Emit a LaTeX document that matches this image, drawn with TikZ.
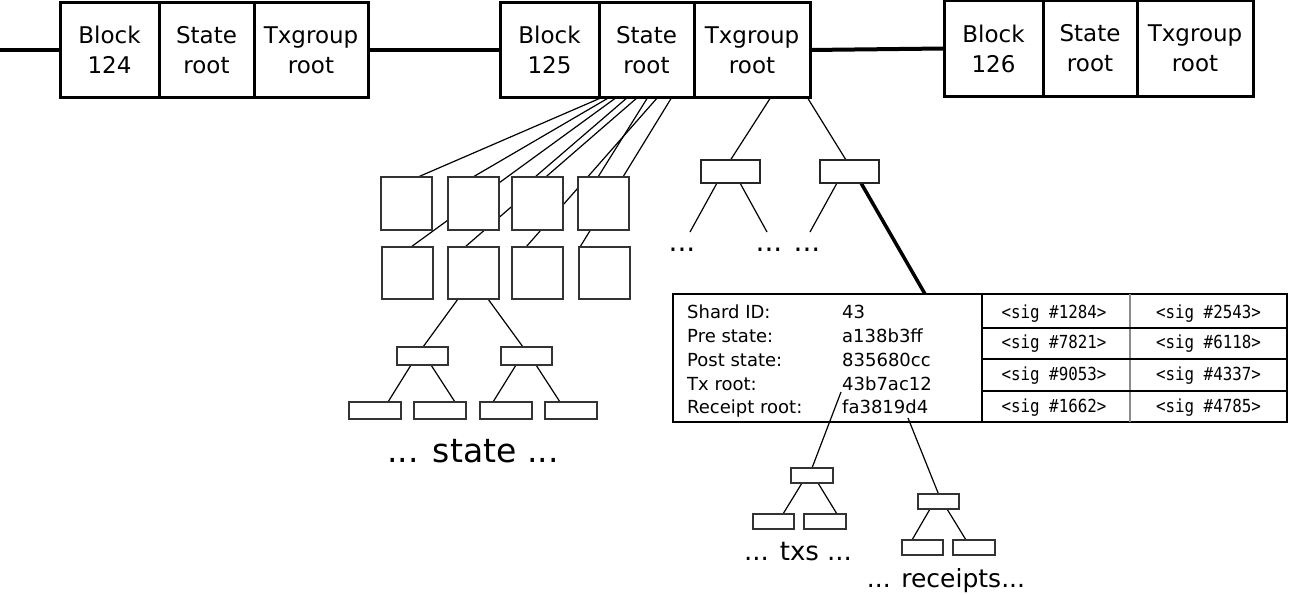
\documentclass[tikz,border=0pt]{standalone}
\usepackage{fontspec}
\setmainfont{DejaVu Sans}
\newfontfamily\sigfont[FakeStretch=0.88]{DejaVu Sans Mono}
\usetikzlibrary{backgrounds}
\begin{document}
\begin{tikzpicture}[x=1pt,y=-1pt,
  cell/.style={draw, line width=3pt, inner sep=0pt, outer sep=0pt, minimum height=94pt, align=center, font=\fontsize{23}{30}\selectfont},
  sq/.style={draw=black!80, line width=1.5pt, fill=white, inner sep=0pt, outer sep=0pt, minimum width=51pt, minimum height=53pt},
  rb/.style={draw=black!80, line width=1.5pt, fill=white, inner sep=0pt, outer sep=0pt, minimum width=51pt, minimum height=18pt},
  sb/.style={draw=black!80, line width=1.5pt, fill=white, inner sep=0pt, outer sep=0pt, minimum width=41pt, minimum height=15pt},
  tb/.style={draw=black!85, line width=1.8pt, fill=white, inner sep=0pt, outer sep=0pt, minimum width=59pt, minimum height=23pt},
  chain/.style={line width=4pt},
  edge/.style={line width=1.2pt},
  lbl/.style={inner sep=0pt, font=\fontsize{18}{24}\selectfont},
  sig/.style={inner sep=0pt, font=\sigfont\fontsize{18}{20}\selectfont},
  dots/.style={inner sep=0pt, font=\fontsize{28}{30}\selectfont},
]
\path[use as bounding box] (0,0) rectangle (1289,594);

% blocks
\node[cell, minimum width=99pt] (b124a) at (109.5,50) {Block\\124};
\node[cell, minimum width=95pt] (b124b) at (206.5,50) {State\\root};
\node[cell, minimum width=114pt] (b124c) at (311,50) {Txgroup\\root};
\node[cell, minimum width=99pt] (b125a) at (549.5,50) {Block\\125};
\node[cell, minimum width=95pt] (b125b) at (646.5,50) {State\\root};
\node[cell, minimum width=116pt] (b125c) at (752,50) {Txgroup\\root};
\node[cell, minimum width=99pt, minimum height=95pt] (b126a) at (993.5,48.5) {Block\\126};
\node[cell, minimum width=94pt, minimum height=95pt] (b126b) at (1090,48.5) {State\\root};
\node[cell, minimum width=116pt, minimum height=95pt] (b126c) at (1195,48.5) {Txgroup\\root};
\coordinate (lstart) at (0,50);

% state squares
\node[sq] (s11) at (406.5,203.5) {};
\node[sq] (s12) at (473.5,203.5) {};
\node[sq] (s13) at (537.5,203.5) {};
\node[sq] (s14) at (603.5,203.5) {};
\node[sq, minimum height=52pt] (s21) at (407.5,273) {};
\node[sq, minimum height=52pt] (s22) at (473.5,273) {};
\node[sq, minimum height=52pt] (s23) at (537.5,273) {};
\node[sq, minimum height=52pt] (s24) at (604.5,273) {};

% state subtree
\node[rb] (r1) at (422.5,356) {};
\node[rb] (r2) at (526.5,356) {};
\node[rb, minimum width=52pt, minimum height=17pt] (l1) at (375,410.5) {};
\node[rb, minimum width=52pt, minimum height=17pt] (l2) at (440,410.5) {};
\node[rb, minimum width=52pt, minimum height=17pt] (l3) at (506,410.5) {};
\node[rb, minimum width=52pt, minimum height=17pt] (l4) at (571,410.5) {};
\node[inner sep=0pt, anchor=base, font=\fontsize{33}{36}\selectfont] (stt) at (473,462) {... state ...};

% txgroup tree
\node[tb] (t1) at (730.5,171.5) {};
\node[tb] (t2) at (849.5,171.5) {};
\coordinate (d1) at (690,232);
\coordinate (d2) at (767,232);
\coordinate (d3) at (810,232);
\node[dots, anchor=base] (dt1) at (682,251) {...};
\node[dots, anchor=base] (dt2) at (769,251) {...};
\node[dots, anchor=base] (dt3) at (807,251) {...};

% shard box
\node[draw, line width=2.5pt, inner sep=0pt, outer sep=0pt, minimum width=614pt, minimum height=128pt] (shard) at (980,358) {};
\node[lbl, anchor=base west] (k1) at (687,318) {Shard ID:};
\node[lbl, anchor=base west] (k2) at (687,342) {Pre state:};
\node[lbl, anchor=base west] (k3) at (687,366) {Post state:};
\node[lbl, anchor=base west] (k4) at (687,390) {Tx root:};
\node[lbl, anchor=base west] (k5) at (687,413) {Receipt root:};
\node[lbl, anchor=base west] (v1) at (842,318) {43};
\node[lbl, anchor=base west] (v2) at (842,342) {a138b3ff};
\node[lbl, anchor=base west] (v3) at (842,366) {835680cc};
\node[lbl, anchor=base west] (v4) at (842,390) {43b7ac12};
\node[lbl, anchor=base west] (v5) at (842,413) {fa3819d4};
\draw[line width=1.5pt] ([xshift=309pt]shard.north west) -- ([xshift=309pt]shard.south west);
\draw[line width=1.5pt, black!45] ([xshift=457pt]shard.north west) -- ([xshift=457pt]shard.south west);
\draw[line width=1.3pt] ([xshift=309pt,yshift=-34pt]shard.north west) -- ([yshift=-34pt]shard.north east);
\draw[line width=1.3pt] ([xshift=309pt,yshift=-65pt]shard.north west) -- ([yshift=-65pt]shard.north east);
\draw[line width=1.3pt] ([xshift=309pt,yshift=-97pt]shard.north west) -- ([yshift=-97pt]shard.north east);
\node[sig, anchor=base] (g1) at (1054,318) {<sig \#1284>};
\node[sig, anchor=base] (g2) at (1208.5,318) {<sig \#2543>};
\node[sig, anchor=base] (g3) at (1054,348) {<sig \#7821>};
\node[sig, anchor=base] (g4) at (1208.5,348) {<sig \#6118>};
\node[sig, anchor=base] (g5) at (1054,380) {<sig \#9053>};
\node[sig, anchor=base] (g6) at (1208.5,380) {<sig \#4337>};
\node[sig, anchor=base] (g7) at (1054,412) {<sig \#1662>};
\node[sig, anchor=base] (g8) at (1208.5,412) {<sig \#4785>};

% tx and receipt trees
\coordinate (txs) at (841,392);
\coordinate (rcs) at (908,418);
\node[sb, minimum width=42pt] (tx0) at (812,475.5) {};
\node[sb] (tx1) at (773.5,521.5) {};
\node[sb, minimum width=42pt] (tx2) at (825,521.5) {};
\node[sb] (rc0) at (938.5,501.5) {};
\node[sb] (rc1) at (922.5,547.5) {};
\node[sb, minimum width=42pt] (rc2) at (974,547.5) {};
\node[inner sep=0pt, anchor=base, font=\fontsize{26}{30}\selectfont] (txt) at (798,560) {... txs ...};
\node[inner sep=0pt, anchor=base, font=\fontsize{25}{30}\selectfont] (rct) at (946,587) {... receipts...};

\begin{scope}[on background layer]
\fill[white] (0,0) rectangle (1289,594);
\draw[chain] (lstart) -- (b124a.west);
\draw[chain] (b124c.east) -- (b125a.west);
\draw[chain] (b125c.east) -- (b126a.west);
% state lines
\draw[edge] ([xshift=4pt]b125b.south west) -- ([xshift=37pt]s11.north west);
\draw[edge] ([xshift=11pt]b125b.south west) -- ([xshift=25pt]s12.north west);
\draw[edge] ([xshift=18pt]b125b.south west) -- ([xshift=29pt]s21.north west);
\draw[edge] ([xshift=29pt]b125b.south west) -- ([xshift=23pt]s13.north west);
\draw[edge] ([xshift=39pt]b125b.south west) -- ([xshift=17pt]s22.north west);
\draw[edge] ([xshift=49pt]b125b.south west) -- ([xshift=20pt]s14.north west);
\draw[edge] ([xshift=59pt]b125b.south west) -- ([xshift=14pt]s23.north west);
\draw[edge] ([xshift=73pt]b125b.south west) -- ([xshift=1pt]s24.north west);
\draw[edge] ([xshift=10pt]s22.south west) -- ([xshift=26pt]r1.north west);
\draw[edge] ([xshift=40pt]s22.south west) -- ([xshift=22pt]r2.north west);
\draw[edge] ([xshift=14pt]r1.south west) -- ([xshift=39pt]l1.north west);
\draw[edge] ([xshift=34pt]r1.south west) -- ([xshift=41pt]l2.north west);
\draw[edge] ([xshift=15pt]r2.south west) -- ([xshift=13pt]l3.north west);
\draw[edge] ([xshift=35pt]r2.south west) -- ([xshift=15pt]l4.north west);
% txgroup lines
\draw[edge] ([xshift=77pt]b125c.south west) -- (t1.north);
\draw[edge] ([xshift=113pt]b125c.south west) -- ([xshift=26pt]t2.north west);
\draw[edge] ([xshift=16pt]t1.south west) -- (d1);
\draw[edge] ([xshift=39pt]t1.south west) -- (d2);
\draw[edge] ([xshift=17pt]t2.south west) -- (d3);
\draw[line width=3.5pt] ([xshift=41pt]t2.south west) -- ([xshift=252pt]shard.north west);
% tx/receipt lines
\draw[edge] (txs) -- (tx0.north);
\draw[edge] (rcs) -- (rc0.north);
\draw[edge] ([xshift=11pt]tx0.south west) -- ([xshift=30pt]tx1.north west);
\draw[edge] ([xshift=27pt]tx0.south west) -- ([xshift=33pt]tx2.north west);
\draw[edge] ([xshift=12pt]rc0.south west) -- ([xshift=10pt]rc1.north west);
\draw[edge] ([xshift=29pt]rc0.south west) -- ([xshift=13pt]rc2.north west);
\end{scope}
\end{tikzpicture}
\end{document}
